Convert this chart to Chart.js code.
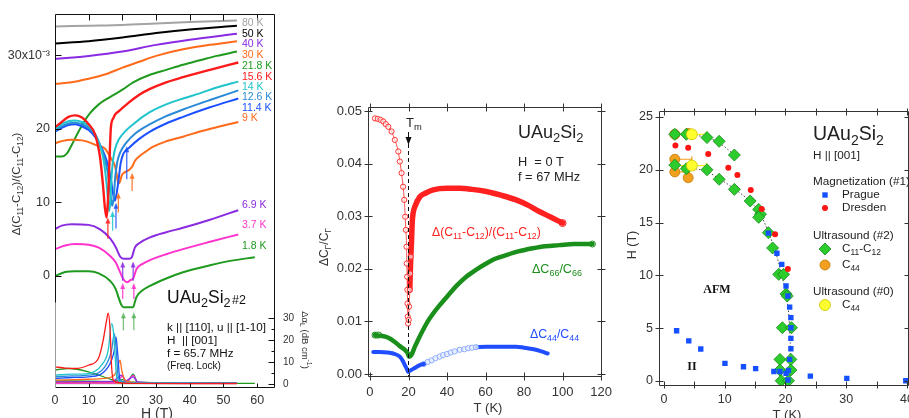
<!DOCTYPE html>
<html><head><meta charset="utf-8">
<script src="https://cdn.jsdelivr.net/npm/chart.js@4.4.0/dist/chart.umd.min.js"></script>
<style>
html,body{margin:0;padding:0;width:909px;height:418px;overflow:hidden;background:#fff;position:relative;}
.w{position:absolute;}
</style></head><body>
<div class="w" style="left:0;top:0"><canvas id="cA" width="312" height="430"></canvas></div>
<div class="w" style="left:300px;top:90px"><canvas id="cB" width="320" height="340"></canvas></div>
<div class="w" style="left:620px;top:90px"><canvas id="cC" width="300" height="340"></canvas></div>
<script>
// ================= DATA =================
// Left panel: Δ(C11-C12)/(C11-C12) (x10^-3) vs H (T) at several temperatures
const curve80K  = [[0,33.9],[10,34.0],[20,34.1],[30,34.3],[40,34.5],[54,34.7]];
const curve50K  = [[0,31.6],[10,31.9],[20,32.4],[30,33.0],[40,33.5],[54,34.0]];
const curve40K  = [[0,29.5],[10,29.9],[20,30.5],[30,31.4],[40,32.1],[54,32.9]];
const curve30K  = [[0,26.1],[5,26.3],[10,26.8],[15,27.4],[20,28.3],[25,29.1],[30,29.9],[38,30.8],[46,31.4],[54,31.9]];
const curve21_8K= [[0,16.2],[2,16.2],[3.5,16.6],[5,17.8],[7,19.6],[9,21.2],[10.4,22.1],[13,23.3],[16.3,24.3],[20,25.3],[23.2,26.3],[28,27.3],[33,28.0],[38,28.7],[43,29.3],[48,29.9],[54,30.5]];
const curve15_6K= [[0,20.2],[2,20.9],[4,21.6],[6,21.8],[8,21.5],[10,20.6],[11.9,19.2],[13.4,16.0],[14.3,12.0],[14.8,9.3],[15.3,7.9],[15.7,10.0],[16.1,14.7],[16.6,20.2],[17.3,21.4],[17.8,21.9],[19,22.4],[21.8,23.5],[25,24.6],[28.2,25.4],[33,26.3],[38,27.0],[46,28.0],[54.4,29.0]];
const curve14K  = [[0,19.9],[2,20.6],[4,21.0],[6,21.1],[8,20.9],[10,20.4],[12,19.2],[13.5,17.5],[14.5,15.5],[15.3,12.5],[15.8,10.0],[16.1,8.8],[16.4,10.0],[16.8,13.5],[17.3,16.0],[18.3,17.9],[20,19.2],[23.2,20.6],[28,22.2],[33,23.3],[38,24.1],[43,24.8],[48,25.6],[54.4,26.4]];
const curve12_6K= [[0,19.7],[2,20.3],[4,20.7],[6,20.8],[8,20.6],[10,20.1],[12,19.1],[13.5,17.6],[15,15.5],[16,13.0],[16.6,10.5],[17.0,9.5],[17.4,10.5],[17.9,13.5],[18.5,15.5],[19.3,16.7],[21,18.0],[24,19.4],[28.2,20.6],[33,21.7],[38,22.6],[46,23.9],[54.4,25.2]];
const curve11_4K= [[0,19.6],[2,20.1],[4,20.5],[6,20.6],[8,20.3],[10,19.8],[12,18.8],[14,17.2],[15.5,15.4],[16.5,13.4],[17.2,11.2],[17.8,10.2],[18.3,11.2],[18.8,12.8],[19.5,15.3],[20.3,16.6],[22,17.4],[25,18.6],[28.2,19.6],[33,20.7],[38,21.6],[46,22.9],[54.4,24.1]];
const curve9K   = [[0,18.0],[2,18.3],[5,18.5],[8,18.4],[10.4,18.1],[12.5,17.7],[14.8,17.3],[16.3,16.2],[17.8,14.9],[18.3,13.8],[18.8,12.5],[19.3,12.8],[19.8,13.6],[20.5,14.0],[21.3,14.2],[22.3,14.5],[22.9,14.8],[23.7,15.6],[25.2,16.3],[26.7,16.8],[29,17.5],[32.6,18.2],[38,18.9],[43,19.6],[48,20.2],[54.4,20.9]];
const curve6_9K = [[0,6.3],[2,6.8],[5,7.0],[10,6.9],[13.4,6.3],[16.3,5.1],[18,3.9],[19.3,2.6],[20.3,2.3],[22,2.3],[22.8,2.5],[23.7,3.8],[25,4.4],[28.2,5.2],[33,5.9],[38,6.5],[46,7.6],[54.4,8.9]];
const curve3_7K = [[0,3.6],[3,4.1],[6,4.3],[10,4.2],[13,3.8],[16.3,2.7],[18,1.8],[19.3,0.5],[20.3,-0.5],[21.3,-0.9],[22.5,-0.6],[23.2,-0.4],[24.2,0.9],[26,1.6],[28.2,2.1],[33,2.9],[38,3.6],[46,4.6],[54.4,5.6]];
const curve1_8K = [[0,-0.1],[3,0.5],[6,0.6],[10,0.6],[13,0.3],[16.3,-0.7],[18,-1.8],[18.8,-2.9],[19.6,-3.9],[20.3,-4.3],[22,-4.3],[23.2,-4.3],[23.7,-3.6],[24.2,-2.9],[26,-2.0],[28.2,-1.4],[33,-0.4],[38,0.45],[46,1.4],[52,2.0],[59.3,2.5]];
// Left panel: attenuation Δα_L (dB/cm) vs H (T)
const att15_6K = [[0,7.9],[3,7.3],[6,7.1],[9.9,8.6],[12.9,11.8],[14.3,20],[15.3,29],[15.8,32.4],[16.3,26],[16.8,8],[17.3,1.8],[19,0.6],[25,0.3],[40,0.2],[54,0.2]];
const att14K   = [[0,4.1],[5,4.5],[9.9,4.8],[13.8,8.6],[15.8,15.5],[16.8,27.6],[17.3,24.5],[17.8,14],[18.3,3.3],[20,0.8],[30,0.4],[54,0.3]];
const att12_6K = [[0,3.3],[5,3.7],[9.9,4.1],[14.8,7.9],[16.8,15.5],[17.6,23],[18.1,17],[18.8,2.6],[21,0.7],[30,0.4],[54,0.3]];
const att11_4K = [[0,2.6],[5,3.0],[9.9,3.3],[15.8,7.9],[17.6,15.5],[18.1,21.5],[18.6,14],[19.3,1.8],[22,0.6],[30,0.4],[54,0.3]];
const att9K    = [[0,1.8],[10,2.2],[14.8,2.6],[18.3,5.6],[19.3,10.9],[19.8,6.4],[20.8,1.8],[23,0.8],[30,0.5],[54,0.4]];
const att6_9K  = [[0,1.0],[10,1.1],[17,1.2],[19.8,4.1],[21,1.5],[23.2,3.3],[24.5,1.0],[30,0.6],[54,0.5]];
const att3_7K  = [[0,0.3],[10,0.4],[18,0.6],[20,3.5],[21.2,1.0],[23.2,4.0],[24.5,0.8],[30,0.4],[54,0.3]];
const att1_8K  = [[0,6.4],[4,7.1],[9.9,5.6],[15.8,2.6],[18,1.5],[20,2.0],[21.5,1.0],[23.2,4.5],[24.5,0.8],[30,0.4],[59.3,0.3]];
const att21_8K = [[0,1.5],[10,1.3],[20,1.0],[30,0.7],[54,0.6]];
const att30K   = [[0,0.8],[20,0.6],[54,0.5]];
const att80K   = [[0,0.2],[54,0.2]];
// arrows: [H, from, to, temperature]
const leftArrows = [[20.3,-7.45,-5.0,'1.8'],[23.4,-7.45,-5.0,'1.8'],[20.1,-3.2,-1.0,'3.7'],[23.4,-3.2,-1.0,'3.7'],
  [20.1,-0.7,1.9,'6.9'],[23.2,-0.7,1.9,'6.9'],[15.7,5.0,7.9,'15.6'],[17.1,6.1,8.8,'14'],[18.1,6.4,9.9,'11.4'],
  [18.8,8.6,11.3,'9'],[21.3,13.1,17.6,'11.4'],[22.9,11.5,14.0,'9']];
const leftHTicks = [0,10,20,30,40,50,60];
const leftYTicks = [0,10,20,30];
const alphaTicks = [0,10,20,30];
const alphaMinor = [5,15,25];

// Middle panel: ΔCΓ/CΓ vs T (K), H = 0 T
const redOpen = [[2.6,.0486],[4,.0485],[5.5,.0483],[6.9,.0480],[8.2,.0475],[9.5,.0470],[11.2,.0461],[12.9,.0445],[14.7,.0423],[15.5,.0404],[16.4,.0382],[17.2,.0356],[17.8,.0331],[18.3,.0299],[18.6,.0274],[19.0,.0242],[19.1,.0210],[19.3,.0185],[19.4,.0160],[19.5,.0134],[19.6,.0109],[19.8,.0096],[20.1,.0103],[20.3,.0128],[20.7,.0160],[20.9,.0191],[21.2,.0223]];
const redBold = [[20.7,.0160],[20.9,.0191],[21.2,.0223],[21.6,.0255],[21.9,.0287],[22.4,.0306],[23.3,.0318],[25.9,.0337],[29,.0344],[32.8,.0350],[40,.0353],[46.6,.0353],[53,.0351],[60.4,.0347],[68,.0340],[75.9,.0331],[82,.0321],[87.9,.0309],[94,.0298],[100,.0287]];
const greenBold = [[2.6,.0074],[5,.0073],[8,.0071],[10.5,.0067],[12.9,.0061],[15.5,.0053],[18.1,.0046],[19.5,.0040],[20.3,.0033],[21.5,.0036],[23.3,.0052],[25,.0065],[27.6,.0084],[30,.0100],[32.8,.0115],[36,.0130],[41.4,.0153],[45,.0168],[50,.0185],[55,.0198],[60.4,.0210],[65,.0219],[70.7,.0226],[77,.0233],[84.5,.0239],[91,.0243],[98.3,.0245],[106,.0247],[115.5,.0247]];
const greenOpen = [[2.6,.0074],[3.6,.0074],[4.6,.0074],[115.5,.0247]];
const blueBold1 = [[1.7,.0042],[5,.0042],[9,.0041],[12,.0039],[15.5,.0033],[17,.0025],[18.1,.0017],[19.2,.0009],[19.8,.0004],[20.5,.0006],[21.6,.0008],[23,.0011],[25.9,.0017],[28,.0019]];
const blueOpen = [[28,.0019],[30,.0023],[32,.0026],[34,.0030],[36.2,.0033],[38,.0036],[40,.0038],[42,.0041],[44,.0043],[46.6,.0046],[49,.0047],[51,.0049],[53,.0050],[55,.0051]];
const blueBold2 = [[55,.0051],[60.4,.0052],[65,.0052],[70,.0052],[75.9,.0052],[80,.0050],[85,.0047],[89,.0043],[92.3,.0039]];
const tmValue = 19.8;
const midXTicks = [0,20,40,60,80,100,120];
const midYTicks = [0,0.01,0.02,0.03,0.04,0.05];

// Right panel: H-T phase diagram
const prague = [[2.1,4.76],[4.1,3.8],[6.07,3.03],[10.05,1.67],[13.1,1.35],[15.1,1.17],[18.1,0.9],[19.1,0.9],[20.1,0.73],[20.5,1.0],[24.1,0.47],[30.1,0.25],[39.8,0.03],
  [17.2,14.0],[18.6,12.1],[19.4,11.05],[20.1,9.0],[20.4,8.05],[20.7,7.0],[20.9,6.0],[20.9,5.05],[20.9,4.04],[20.9,3.06],[20.7,2.05],[20.4,0.1]];
const dresden = [[1.9,22.3],[4.0,22.1],[7.3,21.5],[10.6,20.2],[12.1,19.5],[14.3,18.1],[16.1,16.3],[18.3,13.9],[20.4,10.6]];
const c11c12 = [[1.8,23.36],[3.7,23.36],[7.1,23.05],[9.1,22.7],[11.6,21.4],
  [1.8,20.45],[3.7,20.1],[7.1,20.0],[9.1,19.1],[11.6,18.15],[14.2,17.05],[15.6,16.25],[15.9,15.8],[15.6,15.5],[17.2,14.05],[17.9,12.6],[18.9,10.1],[19.7,10.1],[20.1,8.25],[20.3,8.05],
  [19.5,5.05],[21.0,5.05],[19.1,2.05],[20.9,2.05],[19.1,1.04],[20.9,1.04],[19.3,0.03],[20.5,0.03]];
const c44_2 = [[1.8,23.36],[4.0,23.45],[1.8,21.0],[1.8,19.8],[4.0,19.25]];
const c44_0 = [[4.6,23.36],[4.6,20.4]];
const c44_2err = [[1.8,4.6,21.0],[1.8,4.2,19.8]];
const c44_0err = [[2.0,7.0,23.36],[2.0,7.0,20.4]];
const fitUpper = [[1.8,23.4],[4,23.35],[7.1,23.05],[9.1,22.55],[11.6,21.4]];
const fitLower = [[1.8,20.45],[4,20.2],[7,19.85],[9,19.2],[11.6,18.2],[14.2,17.0],[15.8,15.9],[17.2,14.1],[18.5,12.0],[19.4,10.0],[20.1,8.2],[20.6,6.0],[20.8,4.0],[20.8,2.0],[20.7,0.0]];
const rightXTicks = [0,10,20,30,40];
const rightXMinor = [0,5,10,15,20,25,30,35,40];
const rightYTicks = [0,5,10,15,20,25];

// ================= HELPERS =================
const F = "'Liberation Sans', Arial, Helvetica, sans-serif";
const FS = "'Liberation Serif', 'DejaVu Serif', serif";
const col = {'80':'#a3a3a3','50':'#000000','40':'#8a2be2','30':'#ff6a1a','21.8':'#1f9a1f','15.6':'#ff1a1a','14':'#20c4cc','12.6':'#2a8ad6','11.4':'#1a50ff','9':'#ff6a1a','6.9':'#8a2be2','3.7':'#ff33cc','1.8':'#1f9a1f'};
const pts = a => a.map(p => ({x:p[0], y:p[1]}));
function lineDS(data, color, width, axis, extra) {
  return Object.assign({data: pts(data), borderColor: color, backgroundColor: color, borderWidth: width, pointRadius: 0,
    cubicInterpolationMode: 'monotone', yAxisID: axis || 'y', fill: false}, extra || {});
}
function parseRich(t) {
  const out = []; const re = /([_^])\{([^}]*)\}/g; let last = 0, m;
  while ((m = re.exec(t))) { if (m.index > last) out.push({s: t.slice(last, m.index), m: 0}); out.push({s: m[2], m: m[1] === '_' ? 'sub' : 'sup'}); last = re.lastIndex; }
  if (last < t.length) out.push({s: t.slice(last), m: 0});
  return out;
}
function drawRich(ctx, it) {
  const segs = parseRich(it.t); const fam = it.family || F; const wt = it.weight || 'normal';
  const fnt = sz => `${wt} ${sz}px ${fam}`;
  let total = 0;
  segs.forEach(g => { g.sz = g.m ? it.size * 0.72 : it.size; ctx.font = fnt(g.sz); g.w = ctx.measureText(g.s).width; total += g.w; });
  ctx.save(); ctx.translate(it.x, it.y); if (it.rot) ctx.rotate(it.rot * Math.PI / 180);
  let x0 = it.align === 'center' ? -total / 2 : it.align === 'right' ? -total : 0;
  ctx.fillStyle = it.color || '#222'; ctx.textBaseline = 'middle'; ctx.textAlign = 'left';
  segs.forEach(g => { ctx.font = fnt(g.sz); const dy = g.m === 'sub' ? it.size * 0.32 : g.m === 'sup' ? -it.size * 0.38 : 0; ctx.fillText(g.s, x0, dy); x0 += g.w; });
  ctx.restore();
}
const textPlugin = { id: 'texts', afterDraw(chart, a, opts) { (opts.items || []).forEach(it => drawRich(chart.ctx, it)); } };
const framePlugin = {
  id: 'frame',
  afterDatasetsDraw(chart, args, o) {
    const {ctx, chartArea: a, scales} = chart;
    ctx.save(); ctx.lineWidth = o.width || 1; ctx.strokeStyle = o.color || '#222';
    const L = Math.round(a.left) + 0.5, R = Math.round(a.right) - 0.5, T = Math.round(a.top) + 0.5, B = Math.round(a.bottom) - 0.5;
    ctx.beginPath(); ctx.moveTo(L, T); ctx.lineTo(R, T); ctx.moveTo(R, T); ctx.lineTo(R, B); ctx.moveTo(L, B); ctx.lineTo(R, B); ctx.stroke();
    if (o.leftSplit) {
      const ys = scales[o.leftSplit.scale].getPixelForValue(o.leftSplit.value);
      ctx.beginPath(); ctx.moveTo(L, T); ctx.lineTo(L, ys); ctx.stroke();
      ctx.save(); ctx.strokeStyle = o.leftSplit.color; ctx.beginPath(); ctx.moveTo(L, ys); ctx.lineTo(L, B); ctx.stroke(); ctx.restore();
    } else { ctx.beginPath(); ctx.moveTo(L, T); ctx.lineTo(L, B); ctx.stroke(); }
    (o.marks || []).forEach(mk => {
      const sc = scales[mk.scale]; const i = mk.in || 0, ou = mk.out || 0;
      mk.values.forEach(v => {
        const p = Math.round(sc.getPixelForValue(v)) + 0.5; ctx.beginPath();
        if (mk.side === 'bottom') { ctx.moveTo(p, B + ou); ctx.lineTo(p, B - i); }
        if (mk.side === 'top') { ctx.moveTo(p, T - ou); ctx.lineTo(p, T + i); }
        if (mk.side === 'left') { ctx.moveTo(L - ou, p); ctx.lineTo(L + i, p); }
        if (mk.side === 'right') { ctx.moveTo(R + ou, p); ctx.lineTo(R - i, p); }
        ctx.stroke();
      });
    });
    ctx.restore();
  }
};
function fixedTicks(arr) { return s => { s.ticks = arr.map(v => ({value: v})); }; }
function axisBase(extra) {
  return Object.assign({type: 'linear', grid: {display: false, drawTicks: false}, border: {display: false}}, extra);
}
const common = {responsive: false, animation: false, devicePixelRatio: 1, events: [],
  plugins: {legend: {display: false}, tooltip: {enabled: false}}};

// ================= LEFT CHART =================
const leftOrder = [['80',curve80K],['50',curve50K],['40',curve40K],['30',curve30K],['21.8',curve21_8K],['9',curve9K],['11.4',curve11_4K],['12.6',curve12_6K],['14',curve14K],['15.6',curve15_6K],['6.9',curve6_9K],['3.7',curve3_7K],['1.8',curve1_8K]];
const attOrder = [['80',att80K],['30',att30K],['21.8',att21_8K],['1.8',att1_8K],['3.7',att3_7K],['6.9',att6_9K],['9',att9K],['11.4',att11_4K],['12.6',att12_6K],['14',att14K],['15.6',att15_6K]];
const leftDS = [];
leftOrder.slice().reverse().forEach(([k, d]) => leftDS.push(lineDS(d, col[k], k === '15.6' ? 2.4 : 2, 'y')));
attOrder.slice().reverse().forEach(([k, d]) => leftDS.push(lineDS(d, col[k], 1.3, 'y2')));
const tLabelY = {'80':23,'50':34,'40':44,'30':55,'21.8':66,'15.6':77,'14':87,'12.6':97,'11.4':108,'9':118,'6.9':205,'3.7':225,'1.8':246};
const leftTexts = [
  {t:'Δ(C_{11}-C_{12})/(C_{11}-C_{12})', x:17, y:184, size:11.5, rot:-90, align:'center', color:'#333'},
  {t:'H (T)', x:157, y:414, size:14, align:'center', color:'#333'},
  {t:'Δα_{L} (dB cm^{-1})', x:305, y:340, size:9.5, rot:90, align:'center', color:'#333'},
  {t:'UAu_{2}Si_{2}', x:167, y:298, size:17.5, color:'#111'},
  {t:'#2', x:232, y:301, size:12.5, color:'#111'},
  {t:'k || [110], u || [1-10]', x:167, y:328, size:11.7, color:'#111'},
  {t:'H  || [001]', x:167, y:341, size:11.7, color:'#111'},
  {t:'f = 65.7 MHz', x:167, y:354, size:11.7, color:'#111'},
  {t:'(Freq. Lock)', x:167, y:366, size:10, color:'#111'}
];
Object.keys(tLabelY).forEach(k => leftTexts.push({t: k + ' K', x: 242, y: tLabelY[k], size: 10.5, color: col[k]}));
const arrowPlugin = {
  id: 'arrows',
  afterDatasetsDraw(chart) {
    const {ctx, scales: {x, y}} = chart;
    ctx.save(); ctx.lineWidth = 1.3;
    leftArrows.forEach(([h, v0, v1, k]) => {
      const px = x.getPixelForValue(h), y0 = y.getPixelForValue(v0), y1 = y.getPixelForValue(v1);
      ctx.strokeStyle = col[k]; ctx.fillStyle = col[k]; ctx.globalAlpha = k === '1.8' ? 0.6 : 0.85;
      ctx.beginPath(); ctx.moveTo(px, y0); ctx.lineTo(px, y1 + 4); ctx.stroke();
      ctx.beginPath(); ctx.moveTo(px, y1); ctx.lineTo(px - 2.5, y1 + 6); ctx.lineTo(px + 2.5, y1 + 6); ctx.closePath(); ctx.fill();
    });
    ctx.restore();
  }
};
new Chart(document.getElementById('cA'), {
  type: 'line',
  data: {datasets: leftDS},
  options: Object.assign({}, common, {
    layout: {padding: {top: 12, left: 0, right: 0, bottom: 0}},
    scales: {
      x: axisBase({position: 'bottom', min: 0, max: 65.3, afterBuildTicks: fixedTicks(leftHTicks), afterFit: s => { s.height = 42; },
        ticks: {font: {size: 12.5, family: F}, color: '#333', padding: 5, maxRotation: 0}}),
      y: axisBase({position: 'left', min: -15.3, max: 35.6, afterBuildTicks: fixedTicks(leftYTicks), afterFit: s => { s.width = 55; },
        ticks: {font: {size: 12.5, family: F}, color: '#333', padding: 5, callback: v => v === 30 ? '30x10⁻³' : String(v)}}),
      y2: axisBase({position: 'right', min: -1.8, max: 169.1, afterBuildTicks: fixedTicks(alphaTicks), afterFit: s => { s.width = 37; },
        ticks: {font: {size: 10, family: F}, color: '#333', padding: 8}})
    },
    plugins: Object.assign({}, common.plugins, {
      frame: {color: '#111', leftSplit: {scale: 'y', value: -3.7, color: '#9a9a9a'}, marks: [
        {scale: 'y', side: 'left', values: leftYTicks, in: 6},
        {scale: 'x', side: 'top', values: leftHTicks.slice(1), in: 6},
        {scale: 'x', side: 'bottom', values: leftHTicks.slice(1), in: 4},
        {scale: 'y2', side: 'right', values: alphaTicks, in: 6},
        {scale: 'y2', side: 'right', values: alphaMinor, in: 3}]},
      texts: {items: leftTexts}
    })
  }),
  plugins: [framePlugin, arrowPlugin, textPlugin]
});

// ================= MIDDLE CHART =================
const RED = '#ff2020', GREEN = '#1b8f1b', BLUE = '#1f4dff';
const midDS = [
  lineDS(redOpen, RED, 1, 'y', {pointRadius: 2.6, pointStyle: 'circle', pointBackgroundColor: 'rgba(255,255,255,0.6)', pointBorderColor: RED, pointBorderWidth: 0.9, borderColor: 'rgba(255,40,40,0.8)'}),
  lineDS(redBold, RED, 5.5, 'y', {borderCapStyle: 'round'}),
  lineDS([redBold[redBold.length - 1]], RED, 0, 'y', {pointRadius: 3.5, pointBackgroundColor: '#fff', pointBorderColor: RED, pointBorderWidth: 1}),
  lineDS(greenBold, GREEN, 4.5, 'y', {borderCapStyle: 'round'}),
  lineDS(greenOpen, GREEN, 0, 'y', {showLine: false, pointRadius: 3, pointBackgroundColor: '#fff', pointBorderColor: GREEN, pointBorderWidth: 1}),
  lineDS(blueBold1, BLUE, 4, 'y', {borderCapStyle: 'round'}),
  lineDS(blueOpen, 'rgba(110,150,255,0.55)', 3, 'y', {pointRadius: 2.6, pointBackgroundColor: 'rgba(255,255,255,0.7)', pointBorderColor: '#7fa2ff', pointBorderWidth: 0.9}),
  lineDS(blueBold2, BLUE, 4, 'y', {borderCapStyle: 'round'})
];
const tmPlugin = {
  id: 'tm',
  afterDatasetsDraw(chart) {
    const {ctx, chartArea: a, scales: {x}} = chart;
    const px = Math.round(x.getPixelForValue(tmValue)) + 0.5;
    ctx.save(); ctx.strokeStyle = '#111'; ctx.fillStyle = '#111'; ctx.lineWidth = 1;
    ctx.setLineDash([4, 3]); ctx.beginPath(); ctx.moveTo(px, 54); ctx.lineTo(px, a.bottom); ctx.stroke();
    ctx.setLineDash([]); ctx.beginPath(); ctx.moveTo(px, 42); ctx.lineTo(px, 50); ctx.stroke();
    ctx.beginPath(); ctx.moveTo(px, 55); ctx.lineTo(px - 3, 47); ctx.lineTo(px + 3, 47); ctx.closePath(); ctx.fill();
    ctx.restore();
  }
};
new Chart(document.getElementById('cB'), {
  type: 'line',
  data: {datasets: midDS},
  options: Object.assign({}, common, {
    layout: {padding: {top: 17, left: 0, right: 17, bottom: 0}},
    scales: {
      x: axisBase({position: 'bottom', min: -1.03, max: 120.5, afterBuildTicks: fixedTicks(midXTicks), afterFit: s => { s.height = 53; },
        ticks: {font: {size: 13, family: F}, color: '#333', padding: 8, maxRotation: 0}}),
      y: axisBase({position: 'left', min: -0.00057, max: 0.05076, afterBuildTicks: fixedTicks(midYTicks), afterFit: s => { s.width = 68; },
        ticks: {font: {size: 13, family: F}, color: '#333', padding: 6, callback: v => v.toFixed(2)}})
    },
    plugins: Object.assign({}, common.plugins, {
      frame: {color: '#333', marks: [
        {scale: 'x', side: 'bottom', values: midXTicks, in: 4, out: 4},
        {scale: 'x', side: 'top', values: midXTicks, in: 4, out: 4},
        {scale: 'y', side: 'left', values: midYTicks, in: 4, out: 4},
        {scale: 'y', side: 'right', values: midYTicks, in: 4, out: 4}]},
      texts: {items: [
        {t:'ΔC_{Γ}/C_{Γ}', x:25, y:157, size:12, rot:-90, align:'center', color:'#333'},
        {t:'T (K)', x:188, y:318, size:13, align:'center', color:'#333'},
        {t:'T_{m}', x:106, y:33, size:13, color:'#222'},
        {t:'UAu_{2}Si_{2}', x:218, y:43, size:18, color:'#222'},
        {t:'H  = 0 T', x:218, y:72, size:12.8, color:'#222'},
        {t:'f = 67 MHz', x:218, y:87, size:12.8, color:'#222'},
        {t:'Δ(C_{11}-C_{12})/(C_{11}-C_{12})', x:132, y:143, size:12.2, color:RED},
        {t:'ΔC_{66}/C_{66}', x:232, y:180, size:12.5, color:GREEN},
        {t:'ΔC_{44}/C_{44}', x:230, y:245, size:12.3, color:BLUE}
      ]}
    })
  }),
  plugins: [framePlugin, tmPlugin, textPlugin]
});

// ================= RIGHT CHART =================
const PBLUE = '#1450ff', DRED = '#ff1414', DGREEN = '#2dcc2d', ORANGE = '#f3a020', YELLOW = '#ffff30';
const scat = (d, style, r, bg, bc, bw) => ({data: pts(d), showLine: false, pointStyle: style, pointRadius: r, pointBackgroundColor: bg, pointBorderColor: bc, pointBorderWidth: bw, borderColor: bc, backgroundColor: bg});
const rightDS = [
  scat(prague, 'rect', 3.8, PBLUE, PBLUE, 0),
  scat(dresden, 'circle', 3, DRED, DRED, 0),
  scat(c44_0, 'circle', 5.5, YELLOW, '#c9c400', 0.8),
  scat(c11c12, 'rectRot', 6, DGREEN, '#15881a', 0.8),
  scat(c44_2, 'circle', 5, ORANGE, '#c07a00', 0.8),
  lineDS(fitUpper, '#444', 1, 'y', {borderDash: [1.5, 2]}),
  lineDS(fitLower, '#444', 1, 'y', {borderDash: [1.5, 2]})
];
const errPlugin = {
  id: 'err',
  beforeDatasetsDraw(chart) {
    const {ctx, scales: {x, y}} = chart;
    ctx.save(); ctx.lineWidth = 1.2;
    [[c44_2err, ORANGE], [c44_0err, '#f0ee20']].forEach(([arr, c]) => {
      ctx.strokeStyle = c;
      arr.forEach(([a, b, h]) => {
        const x0 = x.getPixelForValue(a), x1 = x.getPixelForValue(b), py = y.getPixelForValue(h);
        ctx.beginPath(); ctx.moveTo(x0, py); ctx.lineTo(x1, py); ctx.moveTo(x1, py - 3); ctx.lineTo(x1, py + 3); ctx.stroke();
      });
    });
    ctx.restore();
  }
};
const legendPlugin = {
  id: 'rlegend',
  afterDraw(chart) {
    const ctx = chart.ctx; const h = Chart.helpers;
    const mk = (style, r, bg, bc, bw, px, py) => { ctx.save(); ctx.fillStyle = bg; ctx.strokeStyle = bc; ctx.lineWidth = bw; h.drawPoint(ctx, {pointStyle: style, radius: r, rotation: 0, borderWidth: bw}, px, py); ctx.restore(); };
    mk('rect', 3.8, PBLUE, PBLUE, 0, 205, 105);
    mk('circle', 3, DRED, DRED, 0, 205, 118);
    mk('rectRot', 6, DGREEN, '#15881a', 0.8, 205, 159);
    mk('circle', 5, ORANGE, '#c07a00', 0.8, 205, 175);
    mk('circle', 5.5, YELLOW, '#c9c400', 0.8, 205, 215);
  }
};
new Chart(document.getElementById('cC'), {
  type: 'line',
  data: {datasets: rightDS},
  options: Object.assign({}, common, {
    layout: {padding: {top: 21, left: 0, right: 10, bottom: 0}},
    scales: {
      x: axisBase({position: 'bottom', min: -0.8, max: 40.3, afterBuildTicks: fixedTicks(rightXTicks), afterFit: s => { s.height = 44; },
        ticks: {font: {size: 12.5, family: F}, color: '#333', padding: 6, maxRotation: 0}}),
      y: axisBase({position: 'left', min: -0.47, max: 25.57, afterBuildTicks: fixedTicks(rightYTicks), afterFit: s => { s.width = 39; },
        ticks: {font: {size: 12.5, family: F}, color: '#333', padding: 6}})
    },
    plugins: Object.assign({}, common.plugins, {
      frame: {color: '#333', marks: [
        {scale: 'x', side: 'bottom', values: rightXMinor, in: 4, out: 3},
        {scale: 'x', side: 'top', values: rightXMinor, in: 4, out: 3},
        {scale: 'y', side: 'left', values: rightYTicks, in: 4, out: 4},
        {scale: 'y', side: 'right', values: rightYTicks, in: 4}]},
      texts: {items: [
        {t:'H (T)', x:13, y:155, size:12.5, rot:-90, align:'center', color:'#333'},
        {t:'T (K)', x:167, y:325, size:13, align:'center', color:'#333'},
        {t:'UAu_{2}Si_{2}', x:193, y:45, size:19.5, color:'#222'},
        {t:'H || [001]', x:193, y:66, size:11.7, color:'#222'},
        {t:'Magnetization (#1)', x:193, y:92, size:11.7, color:'#222'},
        {t:'Prague', x:222, y:105, size:11.7, color:'#222'},
        {t:'Dresden', x:222, y:118, size:11.7, color:'#222'},
        {t:'Ultrasound (#2)', x:193, y:146, size:11.7, color:'#222'},
        {t:'C_{11}-C_{12}', x:222, y:159, size:11.7, color:'#222'},
        {t:'C_{44}', x:222, y:175, size:11.7, color:'#222'},
        {t:'Ultrasound (#0)', x:193, y:202, size:11.7, color:'#222'},
        {t:'C_{44}', x:222, y:215, size:11.7, color:'#222'},
        {t:'AFM', x:97, y:200, size:12, align:'center', family: FS, weight: 'bold', color:'#111'},
        {t:'II', x:72, y:277, size:12, align:'center', family: FS, weight: 'bold', color:'#111'}
      ]}
    })
  }),
  plugins: [errPlugin, framePlugin, legendPlugin, textPlugin]
});
</script>
</body></html>
